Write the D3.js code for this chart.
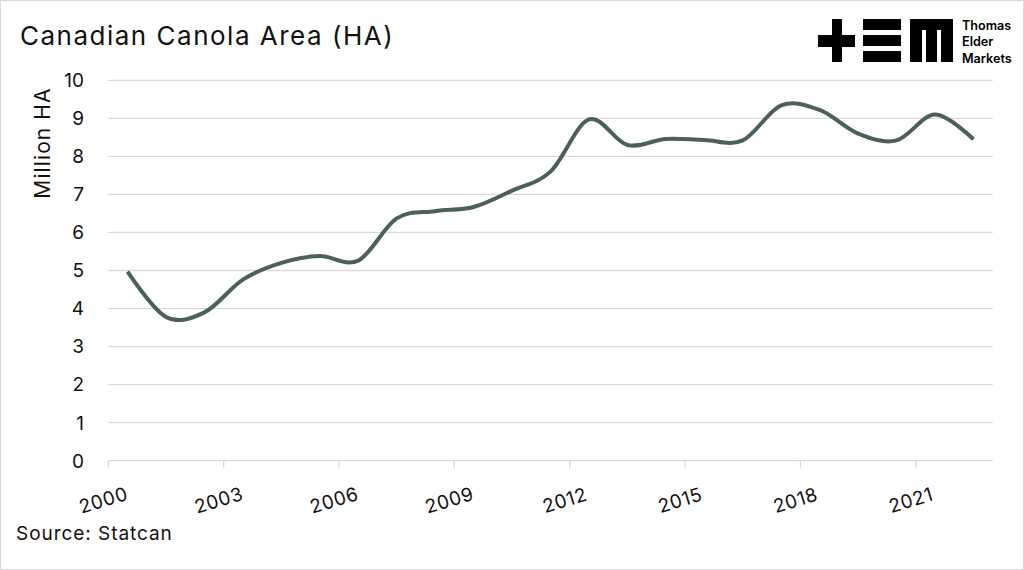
<!DOCTYPE html>
<html><head><meta charset="utf-8">
<script src="https://cdn.jsdelivr.net/npm/d3@7"></script>
<style>
html,body{margin:0;padding:0;background:#fff;}
svg{display:block;font-family:Inter,"Noto Sans",sans-serif;}
</style></head>
<body>
<svg id="chart" width="1024" height="570"></svg>
<script>
const years = [2000,2001,2002,2003,2004,2005,2006,2007,2008,2009,2010,2011,2012,2013,2014,2015,2016,2017,2018,2019,2020,2021,2022];
const area = [4.97,3.78,3.9,4.76,5.2,5.38,5.26,6.37,6.56,6.67,7.1,7.6,8.97,8.3,8.46,8.43,8.42,9.34,9.22,8.6,8.42,9.1,8.45];
const yTicks = [0,1,2,3,4,5,6,7,8,9,10];
const xTickYears = [2000,2003,2006,2009,2012,2015,2018,2021];

(function(){
const svg = d3.select("#chart");
const W = 1024, H = 570;
const pLeft = 108.3, pRight = 992.7, pTop = 80.3, pBottom = 460.7;

svg.append("rect").attr("x",0.5).attr("y",0.5).attr("width",W-1).attr("height",H-1)
  .attr("fill","#fff").attr("stroke","#d9d9d9").attr("stroke-width",1);

const x = d3.scaleBand().domain(years).range([pLeft,pRight]).padding(0);
const y = d3.scaleLinear().domain([0,10]).range([pBottom,pTop]);

svg.append("g").selectAll("line").data(yTicks.filter(d=>d>0)).join("line")
  .attr("x1",pLeft).attr("x2",pRight)
  .attr("y1",d=>y(d)).attr("y2",d=>y(d))
  .attr("stroke","#d9d9d9").attr("stroke-width",1.3);

svg.append("g").selectAll("text").data(yTicks).join("text")
  .attr("x",84).attr("y",d=>y(d)).attr("dy","0.36em")
  .attr("text-anchor","end").attr("font-size",19).attr("fill","#111")
  .text(d=>d);

svg.append("line").attr("x1",pLeft).attr("x2",pRight).attr("y1",pBottom).attr("y2",pBottom)
  .attr("stroke","#d9d9d9").attr("stroke-width",1.3);
svg.append("g").selectAll("line").data(xTickYears).join("line")
  .attr("x1",d=>x(d)).attr("x2",d=>x(d)).attr("y1",pBottom).attr("y2",pBottom+7)
  .attr("stroke","#d9d9d9").attr("stroke-width",1.3);
svg.append("g").selectAll("text").data(xTickYears).join("text")
  .attr("transform",d=>`translate(${x(d)-5},500) rotate(-17)`)
  .attr("dy","0.36em").attr("text-anchor","middle").attr("letter-spacing",0.6)
  .attr("font-size",19).attr("fill","#111").text(d=>d);

const line = d3.line()
  .x((d,i)=>x(years[i]) + x.bandwidth()/2)
  .y(d=>y(d))
  .curve(d3.curveCardinal.tension(0));
svg.append("path").datum(area).attr("d",line)
  .attr("fill","none").attr("stroke","#4b5f5e").attr("stroke-width",4)
  .attr("stroke-linejoin","round");

svg.append("text").attr("x",20).attr("y",45).attr("font-size",26).attr("letter-spacing",1.5).attr("fill","#111")
  .text("Canadian Canola Area (HA)");
svg.append("text").attr("transform","translate(50,143) rotate(-90)")
  .attr("text-anchor","middle").attr("font-size",21).attr("letter-spacing",1.1).attr("fill","#111")
  .text("Million HA");
svg.append("text").attr("x",16).attr("y",540).attr("font-size",19).attr("letter-spacing",0.95).attr("fill","#111")
  .text("Source: Statcan");

const logo = svg.append("g").attr("fill","#000");
logo.append("rect").attr("x",832).attr("y",19).attr("width",10).attr("height",43);
logo.append("rect").attr("x",818).attr("y",35).attr("width",37).attr("height",12);
[19,35,51].forEach(yy=>logo.append("rect").attr("x",863).attr("y",yy).attr("width",38).attr("height",11));
logo.append("rect").attr("x",910).attr("y",19).attr("width",43).attr("height",11);
[[910,12],[926,11],[941,12]].forEach(([xx,w])=>logo.append("rect").attr("x",xx).attr("y",19).attr("width",w).attr("height",43));
const lt = svg.append("text").attr("font-size",12.6).attr("font-weight",600).attr("fill","#000");
["Thomas","Elder","Markets"].forEach((t,i)=>lt.append("tspan").attr("x",962).attr("y",30+i*16.3).text(t));
})();
</script>
</body></html>
